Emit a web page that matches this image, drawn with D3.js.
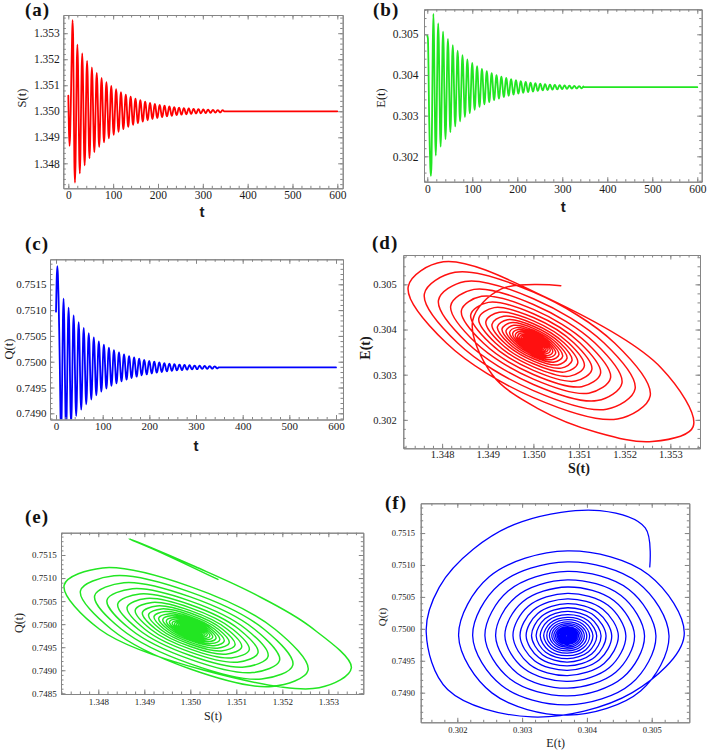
<!DOCTYPE html>
<html><head><meta charset="utf-8">
<script src="https://cdn.jsdelivr.net/npm/d3@7"></script>
<style>body{margin:0;background:#fff}svg{display:block}</style>
</head><body>
<svg id="chart" width="707" height="751"></svg>
<script>
// ---- data (trajectory samples) ----
const time = [0,1.35,2.7,4.05,5.4,6.75,8.1,9.45,10.8,12.15,
13.5,14.85,16.2,17.55,18.9,20.25,21.6,22.95,
24.3,25.65,27,28.35,29.7,31.05,32.4,33.75,
35.1,36.45,37.8,39.15,40.5,41.85,43.2,44.55,
45.9,47.25,48.6,49.95,51.3,52.65,54,55.35,
56.7,58.05,59.4,60.75,62.1,63.45,64.8,66.15,
67.5,68.85,70.2,71.55,72.9,74.25,75.6,76.95,
78.3,79.65,81,82.35,83.7,85.05,86.4,87.75,
89.1,90.45,91.8,93.15,94.5,95.85,97.2,98.55,
99.9,101.25,102.6,103.95,105.3,106.65,108,109.35,
110.7,112.05,113.4,114.75,116.1,117.45,118.8,120.15,
121.5,122.85,124.2,125.55,126.9,128.25,129.6,130.95,
132.3,133.65,135,136.35,137.7,139.05,140.4,141.75,
143.1,144.45,145.8,147.15,148.5,149.85,151.2,152.55,
153.9,155.25,156.6,157.95,159.3,160.65,162,163.35,
164.7,166.05,167.4,168.75,170.1,171.45,172.8,174.15,
175.5,176.85,178.2,179.55,180.9,182.25,183.6,184.95,
186.3,187.65,189,190.35,191.7,193.05,194.4,195.75,
197.1,198.45,199.8,201.15,202.5,203.85,205.2,206.55,
207.9,209.25,210.6,211.95,213.3,214.65,216,217.35,
218.7,220.05,221.4,222.75,224.1,225.45,226.8,228.15,
229.5,230.85,232.2,233.55,234.9,236.25,237.6,238.95,
240.3,241.65,243,244.35,245.7,247.05,248.4,249.75,
251.1,252.45,253.8,255.15,256.5,257.85,259.2,260.55,
261.9,263.25,264.6,265.95,267.3,268.65,270,271.35,
272.7,274.05,275.4,276.75,278.1,279.45,280.8,282.15,
283.5,284.85,286.2,287.55,288.9,290.25,291.6,292.95,
294.3,295.65,297,298.35,299.7,301.05,302.4,303.75,
305.1,306.45,307.8,309.15,310.5,311.85,313.2,314.55,
315.9,317.25,318.6,319.95,321.3,322.65,324,325.35,
326.7,328.05,329.4,330.75,332.1,333.45,334.8,336.15,
337.5,338.85,340.2,341.55,342.9,344.25,345.6,346.95,
348.3,600];

const S = [1.3506,1.3493,1.34867,1.3491,1.3501,1.3514,1.3526,1.3535,1.3528,1.3503,
1.348027,1.347258,1.348094,1.35,1.351841,1.352559,1.351778,1.35,
1.348282,1.347612,1.348341,1.35,1.351603,1.352228,1.351549,1.35,
1.348504,1.347921,1.348555,1.35,1.351396,1.35194,1.351349,1.35,
1.348698,1.348189,1.348742,1.35,1.351215,1.35169,1.351174,1.35,
1.348866,1.348423,1.348904,1.35,1.351058,1.351471,1.351023,1.35,
1.349012,1.348627,1.349046,1.35,1.350922,1.351281,1.35089,1.35,
1.34914,1.348804,1.349169,1.35,1.350803,1.351116,1.350775,1.35,
1.349251,1.348959,1.349276,1.35,1.350699,1.350972,1.350675,1.35,
1.349348,1.349093,1.34937,1.35,1.350609,1.350846,1.350588,1.35,
1.349432,1.349211,1.349451,1.35,1.35053,1.350737,1.350512,1.35,
1.349506,1.349313,1.349522,1.35,1.350461,1.350641,1.350446,1.35,
1.349569,1.349401,1.349584,1.35,1.350402,1.350559,1.350388,1.35,
1.349625,1.349479,1.349638,1.35,1.35035,1.350487,1.350338,1.35,
1.349673,1.349546,1.349685,1.35,1.350305,1.350424,1.350294,1.35,
1.349716,1.349605,1.349725,1.35,1.350265,1.350369,1.350256,1.35,
1.349752,1.349656,1.349761,1.35,1.350231,1.350321,1.350223,1.35,
1.349784,1.3497,1.349792,1.35,1.350201,1.35028,1.350194,1.35,
1.349812,1.349739,1.349819,1.35,1.350175,1.350244,1.350169,1.35,
1.349836,1.349773,1.349842,1.35,1.350153,1.350212,1.350147,1.35,
1.349858,1.349802,1.349862,1.35,1.350133,1.350185,1.350128,1.35,
1.349876,1.349828,1.34988,1.35,1.350116,1.350161,1.350112,1.35,
1.349892,1.34985,1.349896,1.35,1.350101,1.35014,1.350097,1.35,
1.349906,1.349869,1.349909,1.35,1.350088,1.350122,1.350085,1.35,
1.349918,1.349886,1.349921,1.35,1.350076,1.350106,1.350074,1.35,
1.349929,1.349901,1.349931,1.35,1.350067,1.350093,1.350064,1.35,
1.349938,1.349914,1.34994,1.35,1.350058,1.35008,1.350056,1.35,
1.349946,1.349925,1.349948,1.35,1.35005,1.35007,1.350049,1.35,
1.349953,1.349934,1.349954,1.35,1.350044,1.350061,1.350042,1.35,
1.349959,1.349943,1.34996,1.35,1.350038,1.350053,1.350037,1.35,
1.349964,1.34995,1.349965,1.35,1.350033,1.350046,1.350032,1.35,
1.349969,1.349957,1.34997,1.35,1.350029,1.35004,1.350028,1.35,
1.35,1.35];

const E = [0.30497,0.3049,0.3042,0.303,0.30225,0.30172,0.30152,0.30185,0.30315,0.3047,
0.3055,0.304951,0.3037,0.302492,0.30202,0.302533,0.3037,0.304828,
0.305267,0.304789,0.3037,0.302648,0.302237,0.302684,0.3037,0.304682,
0.305065,0.304648,0.3037,0.302784,0.302426,0.302815,0.3037,0.304555,
0.304889,0.304526,0.3037,0.302902,0.302591,0.302929,0.3037,0.304445,
0.304735,0.304419,0.3037,0.303005,0.302734,0.303029,0.3037,0.304348,
0.304601,0.304326,0.3037,0.303095,0.302859,0.303116,0.3037,0.304265,
0.304485,0.304245,0.3037,0.303173,0.302968,0.303191,0.3037,0.304192,
0.304383,0.304175,0.3037,0.303241,0.303062,0.303257,0.3037,0.304128,
0.304295,0.304114,0.3037,0.303301,0.303145,0.303314,0.3037,0.304073,
0.304218,0.30406,0.3037,0.303352,0.303216,0.303364,0.3037,0.304025,
0.304151,0.304014,0.3037,0.303397,0.303279,0.303407,0.3037,0.303983,
0.304093,0.303973,0.3037,0.303436,0.303333,0.303445,0.3037,0.303946,
0.304042,0.303938,0.3037,0.30347,0.303381,0.303478,0.3037,0.303914,
0.303998,0.303907,0.3037,0.3035,0.303422,0.303507,0.3037,0.303887,
0.30396,0.30388,0.3037,0.303526,0.303458,0.303532,0.3037,0.303863,
0.303926,0.303857,0.3037,0.303548,0.303489,0.303554,0.3037,0.303842,
0.303897,0.303837,0.3037,0.303568,0.303516,0.303572,0.3037,0.303823,
0.303871,0.303819,0.3037,0.303585,0.30354,0.303589,0.3037,0.303807,
0.303849,0.303804,0.3037,0.3036,0.303561,0.303603,0.3037,0.303793,
0.30383,0.30379,0.3037,0.303613,0.303579,0.303616,0.3037,0.303781,
0.303813,0.303779,0.3037,0.303624,0.303594,0.303627,0.3037,0.303771,
0.303799,0.303768,0.3037,0.303634,0.303608,0.303636,0.3037,0.303762,
0.303786,0.30376,0.3037,0.303642,0.30362,0.303644,0.3037,0.303754,
0.303775,0.303752,0.3037,0.30365,0.30363,0.303652,0.3037,0.303747,
0.303765,0.303745,0.3037,0.303656,0.303639,0.303658,0.3037,0.303741,
0.303757,0.303739,0.3037,0.303662,0.303647,0.303663,0.3037,0.303735,
0.303749,0.303734,0.3037,0.303667,0.303654,0.303668,0.3037,0.303731,
0.303743,0.30373,0.3037,0.303671,0.30366,0.303672,0.3037,0.303727,
0.303737,0.303726,0.3037,0.303675,0.303665,0.303676,0.3037,0.303723,
0.303733,0.303723,0.3037,0.303678,0.30367,0.303679,0.3037,0.30372,
0.303728,0.30372,0.3037,0.303681,0.303673,0.303682,0.3037,0.303718,
0.3037,0.3037];

const Q = [0.75097,0.75158,0.75185,0.75168,0.75125,0.75065,0.74995,0.74905,0.74862,0.749,
0.74989,0.750847,0.75122,0.750814,0.74989,0.748997,0.748649,0.749027,
0.74989,0.750723,0.751048,0.750695,0.74989,0.749112,0.748809,0.749139,
0.74989,0.750616,0.750899,0.750591,0.74989,0.749213,0.748949,0.749236,
0.74989,0.750522,0.750768,0.7505,0.74989,0.7493,0.74907,0.74932,
0.74989,0.75044,0.750655,0.750421,0.74989,0.749377,0.749176,0.749394,
0.74989,0.750369,0.750556,0.750353,0.74989,0.749443,0.749268,0.749458,
0.74989,0.750307,0.75047,0.750293,0.74989,0.749501,0.749349,0.749514,
0.74989,0.750253,0.750395,0.750241,0.74989,0.749551,0.749419,0.749563,
0.74989,0.750206,0.75033,0.750196,0.74989,0.749595,0.74948,0.749605,
0.74989,0.750165,0.750273,0.750156,0.74989,0.749633,0.749533,0.749642,
0.74989,0.75013,0.750223,0.750122,0.74989,0.749666,0.749579,0.749674,
0.74989,0.750099,0.75018,0.750092,0.74989,0.749695,0.749619,0.749702,
0.74989,0.750072,0.750143,0.750066,0.74989,0.74972,0.749654,0.749726,
0.74989,0.750048,0.75011,0.750043,0.74989,0.749742,0.749684,0.749747,
0.74989,0.750028,0.750082,0.750023,0.74989,0.749761,0.749711,0.749766,
0.74989,0.75001,0.750057,0.750006,0.74989,0.749778,0.749734,0.749782,
0.74989,0.749995,0.750035,0.749991,0.74989,0.749792,0.749754,0.749796,
0.74989,0.749981,0.750017,0.749978,0.74989,0.749805,0.749772,0.749808,
0.74989,0.749969,0.75,0.749967,0.74989,0.749816,0.749787,0.749819,
0.74989,0.749959,0.749986,0.749957,0.74989,0.749826,0.7498,0.749828,
0.74989,0.74995,0.749974,0.749948,0.74989,0.749834,0.749812,0.749836,
0.74989,0.749942,0.749963,0.749941,0.74989,0.749841,0.749822,0.749843,
0.74989,0.749936,0.749953,0.749934,0.74989,0.749847,0.749831,0.749849,
0.74989,0.74993,0.749945,0.749928,0.74989,0.749853,0.749838,0.749854,
0.74989,0.749925,0.749938,0.749923,0.74989,0.749858,0.749845,0.749859,
0.74989,0.74992,0.749932,0.749919,0.74989,0.749862,0.749851,0.749863,
0.74989,0.749916,0.749926,0.749915,0.74989,0.749866,0.749856,0.749866,
0.74989,0.749913,0.749922,0.749912,0.74989,0.749869,0.74986,0.749869,
0.74989,0.74991,0.749918,0.749909,0.74989,0.749871,0.749864,0.749872,
0.74989,0.749907,0.749914,0.749907,0.74989,0.749874,0.749868,0.749874,
0.74989,0.749905,0.749911,0.749905,0.74989,0.749876,0.74987,0.749876,
0.74989,0.74989];

// tick labels
const tTicks = [0,100,200,300,400,500,600];
const sTicks = [1.348,1.349,1.350,1.351,1.352,1.353];
const eTicks = [0.302,0.303,0.304,0.305];
const qTicks = [0.7490,0.7495,0.7500,0.7505,0.7510,0.7515];
const qTicksE = [0.7485,0.7490,0.7495,0.7500,0.7505,0.7510,0.7515];

// ---- drawing ----
const svg = d3.select('#chart');
svg.append('rect').attr('width',707).attr('height',751).attr('fill','#fff');
const SERIF = "'Liberation Serif','Times New Roman',serif";
const SANS = "'Liberation Sans',Arial,sans-serif";
const FRAME = '#858585';

function minorVals(dom, step){
  const lo = Math.min(dom[0],dom[1]), hi = Math.max(dom[0],dom[1]);
  const out = [];
  for (let v = Math.ceil(lo/step - 1e-9)*step; v <= hi + 1e-12; v += step) out.push(+v.toFixed(8));
  return out;
}

function panel(o){
  const n = Math.min(o.xs.length, o.ys.length);
  const pts = d3.range(n).map(i => [o.xs[i], o.ys[i]]);
  const x = d3.scaleLinear().domain(o.xd).range([o.l, o.r]);
  const y = d3.scaleLinear().domain(o.yd).range([o.b, o.t]);
  const cid = 'clip_' + o.key;
  svg.append('clipPath').attr('id', cid).append('rect')
    .attr('x', o.l).attr('y', o.t).attr('width', o.r - o.l).attr('height', o.b - o.t);
  const g = svg.append('g');
  g.append('path').datum(pts)
    .attr('clip-path', `url(#${cid})`)
    .attr('fill','none').attr('stroke', o.color).attr('stroke-width', o.lw)
    .attr('stroke-linejoin','round').attr('stroke-linecap','round')
    .attr('d', d3.line().x(d => x(d[0])).y(d => y(d[1])).curve(o.curve));

  const MAJ = 4.5, MIN = 2.5;
  const xm = minorVals(o.xd, o.xMinor), ym = minorVals(o.yd, o.yMinor);
  function ax(fn, sc, tr, vals, size, fmt, pad){
    const a = g.append('g').attr('transform', tr)
      .call(fn(sc).tickValues(vals).tickSize(size).tickSizeOuter(0).tickPadding(pad||3).tickFormat(fmt));
    a.selectAll('.domain,line').attr('stroke', FRAME).attr('stroke-width', 1);
    a.attr('font-family', SERIF).attr('font-size', o.fs).attr('font-weight', o.fw || 'normal');
    a.selectAll('text').attr('fill', '#1a1a1a');
    return a;
  }
  const none = () => '';
  ax(d3.axisBottom, x, `translate(0,${o.b})`, xm, -MIN, none);
  ax(d3.axisTop, x, `translate(0,${o.t})`, xm, -MIN, none);
  ax(d3.axisLeft, y, `translate(${o.l},0)`, ym, -MIN, none);
  ax(d3.axisRight, y, `translate(${o.r},0)`, ym, -MIN, none);
  ax(d3.axisBottom, x, `translate(0,${o.b})`, o.xTicks, -MAJ, o.xFmt, o.xPad);
  ax(d3.axisTop, x, `translate(0,${o.t})`, o.xTicks, -MAJ, none);
  ax(d3.axisLeft, y, `translate(${o.l},0)`, o.yTicks, -MAJ, o.yFmt, o.yPad);
  ax(d3.axisRight, y, `translate(${o.r},0)`, o.yTicks, -MAJ, none);

  svg.append('text').attr('x', o.lab[0]).attr('y', o.lab[1])
    .attr('font-family', SERIF).attr('font-weight','bold').attr('font-size', 19)
    .attr('letter-spacing', 1).attr('fill','#111').text(o.name);
  svg.append('text').attr('x', o.xt[0]).attr('y', o.xt[1])
    .attr('text-anchor','middle').attr('dominant-baseline','middle')
    .attr('font-family', o.xtFont).attr('font-weight', o.xtW).attr('font-size', o.xtSize)
    .attr('fill','#1a1a1a').text(o.xTitle);
  svg.append('text')
    .attr('transform', `translate(${o.yt[0]},${o.yt[1]}) rotate(-90)`)
    .attr('text-anchor','middle').attr('dominant-baseline','middle')
    .attr('font-family', SERIF).attr('font-weight', o.ytW).attr('font-size', o.ytSize)
    .attr('fill','#1a1a1a').text(o.yTitle);
}

const f0 = d3.format('d'), f3 = d3.format('.3f'), f4 = d3.format('.4f');
const tsCurve = d3.curveMonotoneX, phCurve = d3.curveCatmullRom.alpha(0.5);

panel({key:'a', name:'(a)', lab:[25,15.5], xs:time, ys:S, color:'#ff0000', lw:1.8, curve:tsCurve,
  l:63.3, r:342.7, t:15, b:188.3, xd:[-11.2,612], yd:[1.34704,1.3537],
  xTicks:tTicks, yTicks:sTicks, xFmt:f0, yFmt:f3, xMinor:20, yMinor:0.0002, fs:11.5, xPad:2.5, yPad:3.5,
  xTitle:'t', xt:[202,213], xtFont:SANS, xtW:'bold', xtSize:15,
  yTitle:'S(t)', yt:[23,98], ytW:'normal', ytSize:12.5});

panel({key:'b', name:'(b)', lab:[373,15.5], xs:time, ys:E, color:'#22e622', lw:1.8, curve:tsCurve,
  l:424, r:701.7, t:9.3, b:181.7, xd:[-7.3,609.8], yd:[0.301376,0.305615],
  xTicks:tTicks, yTicks:eTicks, xFmt:f0, yFmt:f3, xMinor:20, yMinor:0.0002, fs:11.5, xPad:3.5, yPad:5.5,
  xTitle:'t', xt:[563.3,208], xtFont:SANS, xtW:'bold', xtSize:15,
  yTitle:'E(t)', yt:[382,98], ytW:'normal', ytSize:12.5});

panel({key:'c', name:'(c)', lab:[25,250], xs:time, ys:Q, color:'#0000ff', lw:1.8, curve:tsCurve,
  l:50, r:343, t:259.3, b:419.5, xd:[-12.9,615], yd:[0.74888,0.751985],
  xTicks:tTicks, yTicks:qTicks, xFmt:f0, yFmt:f4, xMinor:20, yMinor:0.0001, fs:11, xPad:3, yPad:3.5,
  xTitle:'t', xt:[196,447], xtFont:SANS, xtW:'bold', xtSize:15,
  yTitle:'Q(t)', yt:[10.5,349], ytW:'normal', ytSize:12.5});

panel({key:'d', name:'(d)', lab:[372,249], xs:S, ys:E, color:'#ff1010', lw:1.5, curve:phCurve,
  l:403.3, r:700, t:255, b:448.3, xd:[1.34715,1.35365], yd:[0.30137,0.30565],
  xTicks:sTicks, yTicks:eTicks, xFmt:f3, yFmt:f3, xMinor:0.0002, yMinor:0.0002, fs:10.5, xPad:2, yPad:6.5,
  xTitle:'S(t)', xt:[579,470], xtFont:SERIF, xtW:'bold', xtSize:14,
  yTitle:'E(t)', yt:[366.7,348], ytW:'bold', ytSize:14});

panel({key:'e', name:'(e)', lab:[25,523], xs:S, ys:Q, color:'#22e622', lw:1.5, curve:phCurve,
  l:61, r:363.3, t:532.7, b:694, xd:[1.347189,1.35376], yd:[0.748485,0.751984],
  xTicks:sTicks, yTicks:qTicksE, xFmt:f3, yFmt:f4, xMinor:0.0002, yMinor:0.0001, fs:9, xPad:5, yPad:4.3,
  xTitle:'S(t)', xt:[213,717], xtFont:SERIF, xtW:'normal', xtSize:12,
  yTitle:'Q(t)', yt:[20.7,623], ytW:'normal', ytSize:12});

panel({key:'f', name:'(f)', lab:[385,509], xs:E, ys:Q, color:'#0000ff', lw:1.3, curve:phCurve,
  l:420.7, r:689.3, t:503.3, b:722.3, xd:[0.301435,0.30558], yd:[0.748536,0.751966],
  xTicks:eTicks, yTicks:qTicks, xFmt:f3, yFmt:f4, xMinor:0.0002, yMinor:0.0001, fs:8.5, xPad:4.7, yPad:5.7,
  xTitle:'E(t)', xt:[555.7,744], xtFont:SERIF, xtW:'normal', xtSize:12,
  yTitle:'Q(t)', yt:[383.3,617], ytW:'normal', ytSize:11});
</script>
</body></html>
